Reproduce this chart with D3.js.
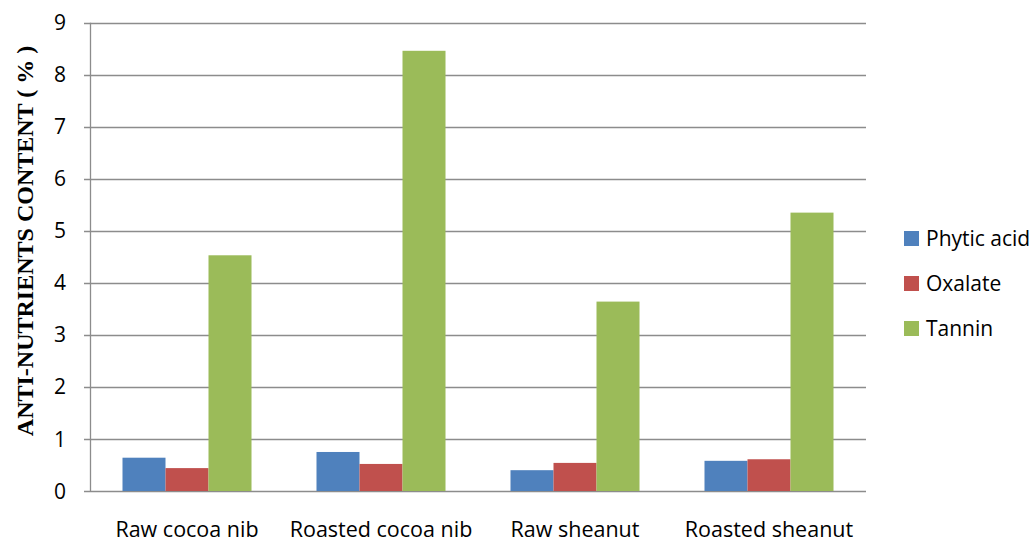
<!DOCTYPE html>
<html>
<head>
<meta charset="utf-8">
<script src="https://cdn.jsdelivr.net/npm/d3@7"></script>
<style>
  body { margin: 0; background: #fff; }
  svg { display: block; }
</style>
</head>
<body>
<svg id="chart" width="1034" height="539"></svg>
<script>
const categories = ["Raw cocoa nib", "Roasted cocoa nib", "Raw sheanut", "Roasted sheanut"];
const seriesNames = ["Phytic acid", "Oxalate", "Tannin"];
const phyticAcid = [0.64, 0.75, 0.40, 0.58];
const oxalate = [0.44, 0.52, 0.54, 0.61];
const tannin = [4.53, 8.46, 3.64, 5.35];
const colors = ["#4F81BD", "#C0504D", "#9BBB59"];
const yTicks = [0, 1, 2, 3, 4, 5, 6, 7, 8, 9];

const seriesValues = [phyticAcid, oxalate, tannin];

const svg = d3.select("#chart");
const margin = { left: 90, right: 168, top: 22.7, bottom: 48 };
const width = 1034, height = 539;

// Excel-style: gap width 150% of a bar
const x0 = d3.scaleBand()
    .domain(categories)
    .range([margin.left, width - margin.right])
    .paddingInner(0.335)
    .paddingOuter(0.1675);

const x1 = d3.scaleBand()
    .domain(seriesNames)
    .range([0, x0.bandwidth()]);

const y = d3.scaleLinear()
    .domain([0, 9])
    .range([height - margin.bottom, margin.top]);

const font = "'Open Sans', sans-serif";

// gridlines
svg.append("g")
    .selectAll("line")
    .data(yTicks)
    .enter().append("line")
    .attr("x1", margin.left - 6)
    .attr("x2", width - margin.right)
    .attr("y1", d => Math.round(y(d)) + 0.5)
    .attr("y2", d => Math.round(y(d)) + 0.5)
    .style("stroke", "#8c8c8c")
    .style("stroke-width", 1.3);

// y axis line
svg.append("line")
    .attr("x1", margin.left + 0.5)
    .attr("x2", margin.left + 0.5)
    .attr("y1", y(9))
    .attr("y2", y(0))
    .style("stroke", "#8c8c8c")
    .style("stroke-width", 1.3);

// bars
const groups = svg.append("g")
    .selectAll("g")
    .data(categories)
    .enter().append("g")
    .attr("transform", d => `translate(${x0(d)},0)`);

groups.selectAll("rect")
    .data((d, i) => seriesNames.map((s, k) => ({ series: s, value: seriesValues[k][i], color: colors[k] })))
    .enter().append("rect")
    .attr("x", d => x1(d.series))
    .attr("width", x1.bandwidth())
    .attr("y", d => y(d.value))
    .attr("height", d => y(0) - y(d.value))
    .attr("fill", d => d.color);

// y tick labels
svg.append("g")
    .selectAll("text")
    .data(yTicks)
    .enter().append("text")
    .attr("x", 66)
    .attr("y", d => y(d))
    .attr("dy", "0.36em")
    .attr("text-anchor", "end")
    .attr("font-family", font)
    .attr("font-size", 21)
    .attr("fill", "#000")
    .text(d => d);

// category labels (bottom edge clips descenders, as in the original)
svg.append("g")
    .selectAll("text")
    .data(categories)
    .enter().append("text")
    .attr("x", d => x0(d) + x0.bandwidth() / 2)
    .attr("y", 537)
    .attr("text-anchor", "middle")
    .attr("font-family", font)
    .attr("font-size", 21.5)
    .attr("fill", "#000")
    .text(d => d);

// y axis title
svg.append("text")
    .attr("transform", "translate(33,241) rotate(-90)")
    .attr("text-anchor", "middle")
    .attr("font-family", "'Liberation Serif', 'Times New Roman', serif")
    .attr("font-weight", "bold")
    .attr("font-size", 24)
    .attr("fill", "#000")
    .text("ANTI-NUTRIENTS CONTENT ( % )");

// legend
const legend = svg.append("g")
    .selectAll("g")
    .data(seriesNames)
    .enter().append("g")
    .attr("transform", (d, i) => `translate(904,${238 + i * 45})`);

legend.append("rect")
    .attr("x", 0)
    .attr("y", -7)
    .attr("width", 15)
    .attr("height", 15)
    .attr("fill", (d, i) => colors[i]);

legend.append("text")
    .attr("x", 22)
    .attr("y", 0)
    .attr("dy", "0.36em")
    .attr("font-family", font)
    .attr("font-size", 21)
    .attr("fill", "#000")
    .text(d => d);
</script>
</body>
</html>
